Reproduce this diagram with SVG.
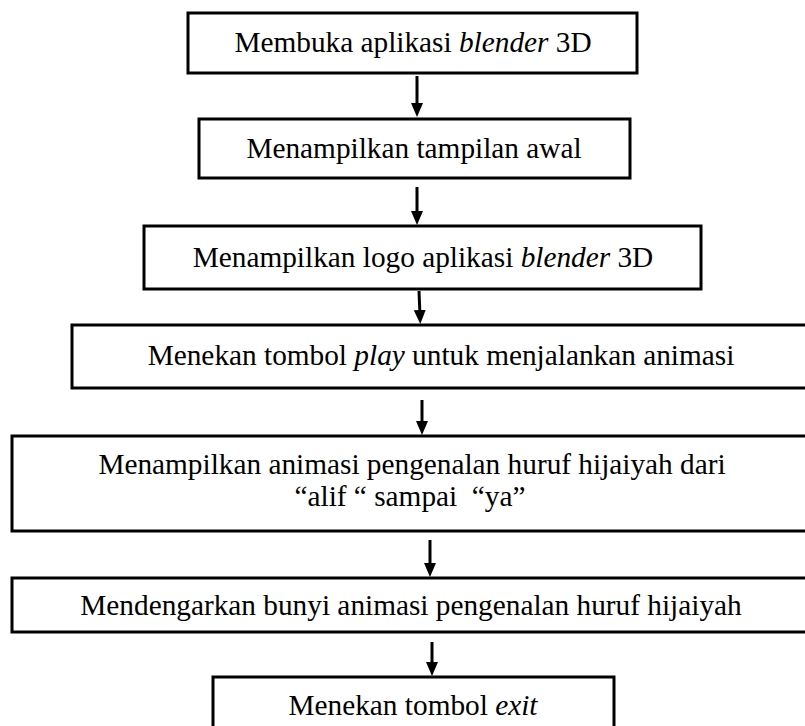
<svg xmlns="http://www.w3.org/2000/svg" width="805" height="726" viewBox="0 0 805 726">
<defs>
<style>
.box{fill:#fff;stroke:#000;stroke-width:3}
.t{font-family:"Liberation Serif","Times New Roman",serif;font-size:29.3px;fill:#000;text-anchor:middle}
.i{font-style:italic}
.c{stroke:#000;stroke-width:3;fill:none}
</style>
<marker id="ah" viewBox="0 0 14 12" refX="6" refY="6" markerWidth="14" markerHeight="12" markerUnits="userSpaceOnUse" orient="auto">
<path d="M0,0 L14,6 L0,12 Z" fill="#000"/>
</marker>
</defs>
<rect width="805" height="726" fill="#fff"/>
<g id="connectors">
<line class="c" x1="417" y1="76" x2="417" y2="109" marker-end="url(#ah)"/>
<line class="c" x1="417" y1="187" x2="417" y2="217" marker-end="url(#ah)"/>
<line class="c" x1="419" y1="291" x2="420" y2="316" marker-end="url(#ah)"/>
<line class="c" x1="422" y1="400" x2="422" y2="427" marker-end="url(#ah)"/>
<line class="c" x1="430" y1="540" x2="430" y2="569" marker-end="url(#ah)"/>
<line class="c" x1="432" y1="642" x2="432" y2="668" marker-end="url(#ah)"/>
</g>
<g id="node1">
<rect class="box" x="188" y="13" width="449" height="60"/>
<text class="t" x="413" y="52">Membuka aplikasi <tspan class="i">blender</tspan> 3D</text>
</g>
<g id="node2">
<rect class="box" x="199" y="119" width="431" height="59"/>
<text class="t" x="414" y="158">Menampilkan tampilan awal</text>
</g>
<g id="node3">
<rect class="box" x="144" y="226" width="557" height="63"/>
<text class="t" x="423" y="267">Menampilkan logo aplikasi <tspan class="i">blender</tspan> 3D</text>
</g>
<g id="node4">
<rect class="box" x="72" y="325" width="738" height="63"/>
<text class="t" x="441" y="365">Menekan tombol <tspan class="i">play</tspan> untuk menjalankan animasi</text>
</g>
<g id="node5">
<rect class="box" x="12" y="436" width="800" height="95"/>
<text class="t" x="412" y="474">Menampilkan animasi pengenalan huruf hijaiyah dari</text>
<text class="t" x="410" y="506" xml:space="preserve">“alif “ sampai  “ya”</text>
</g>
<g id="node6">
<rect class="box" x="12" y="578" width="800" height="54"/>
<text class="t" x="411" y="615">Mendengarkan bunyi animasi pengenalan huruf hijaiyah</text>
</g>
<g id="node7">
<rect class="box" x="213" y="677" width="401" height="70"/>
<text class="t" x="413" y="715">Menekan tombol <tspan class="i">exit</tspan></text>
</g>
</svg>
